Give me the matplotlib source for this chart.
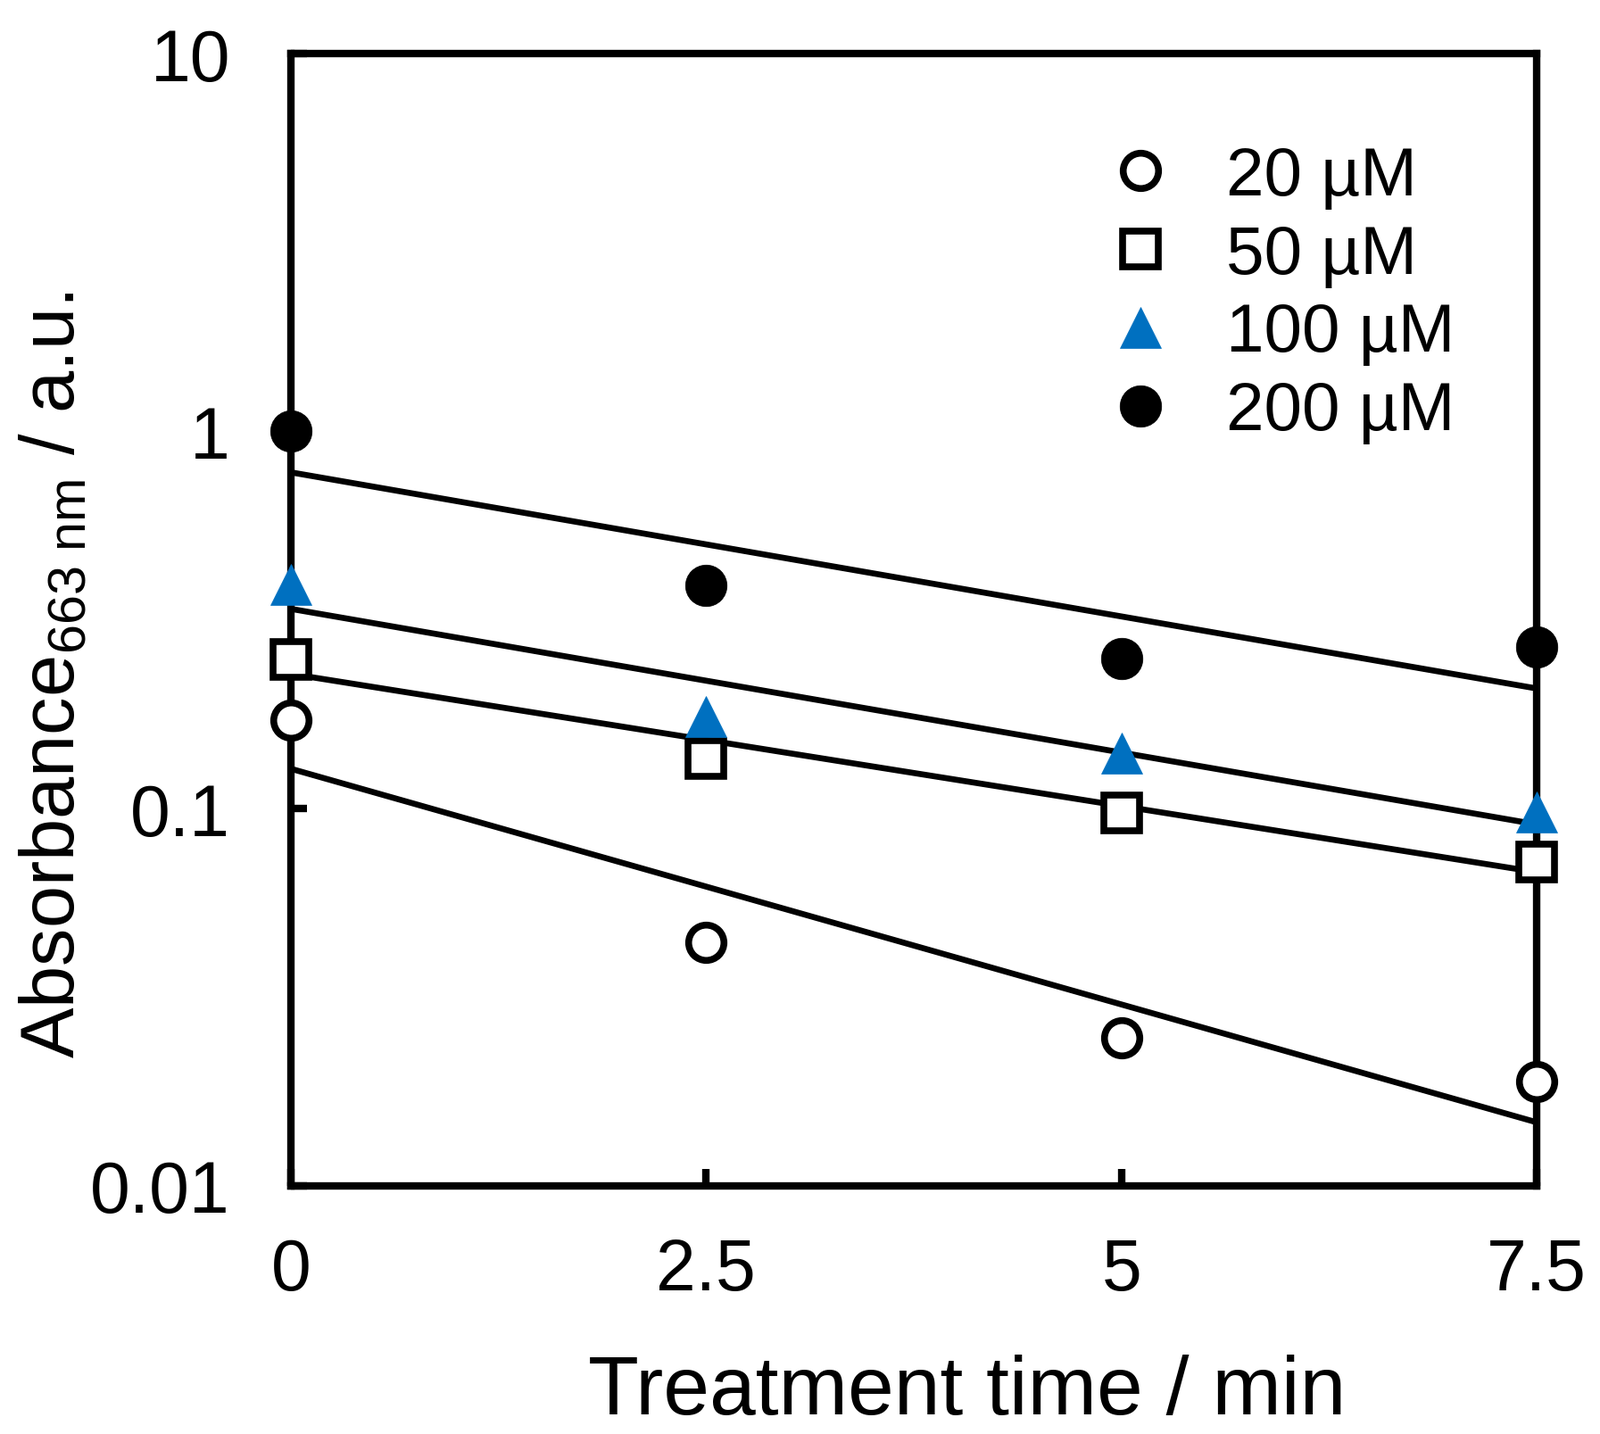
import numpy as np
import matplotlib
matplotlib.use('Agg')
import matplotlib.pyplot as plt
from matplotlib.ticker import FixedLocator, NullLocator

plt.rcParams['font.family'] = ['Liberation Sans', 'DejaVu Sans']
plt.rcParams['mathtext.fontset'] = 'custom'
plt.rcParams['mathtext.rm'] = 'Liberation Sans'
plt.rcParams['mathtext.it'] = 'Liberation Sans'

# treatment time (min) and absorbance at 663 nm
time = [0, 2.5, 5, 7.5]
abs_20 = [0.171, 0.0442, 0.0247, 0.0189]
abs_50 = [0.248, 0.136, 0.0975, 0.0723]
abs_100 = [0.392, 0.175, 0.140, 0.098]
abs_200 = [1.0, 0.390, 0.250, 0.268]

labels = ['20 µM', '50 µM', '100 µM', '200 µM']
x_ticks = [0, 2.5, 5, 7.5]
x_tick_labels = ['0', '2.5', '5', '7.5']
y_ticks = [0.01, 0.1, 1, 10]
y_tick_labels = ['0.01', '0.1', '1', '10']

blue = '#0070C0'
styles = [
    dict(marker='o', ms=28.5, mfc='white', mec='black', mew=5.5),
    dict(marker='s', ms=28.5, mfc='white', mec='black', mew=5.5),
    dict(marker='^', ms=33, mfc=blue, mec=blue, mew=0.5),
    dict(marker='o', ms=33.5, mfc='black', mec='black', mew=0.5),
]

fig = plt.figure(figsize=(17.93, 16.08), dpi=100)
ax = fig.add_axes([0.1818, 0.1729, 0.9604 - 0.1818, 0.962 - 0.1729])

t = np.array(time)
t_fit = np.linspace(0, 7.5, 100)
handles = []
for series, lab, st in zip([abs_20, abs_50, abs_100, abs_200], labels, styles):
    # exponential trendline (linear fit in log space)
    slope, icpt = np.polyfit(t, np.log(series), 1)
    ax.plot(t_fit, np.exp(icpt + slope * t_fit), color='black', lw=4.8, zorder=3,
            solid_capstyle='butt')
    h, = ax.plot(time, series, ls='none', label=lab, clip_on=False, zorder=5, **st)
    handles.append(h)

ax.set_yscale('log')
ax.set_xlim(0, 7.5)
ax.set_ylim(0.01, 10)
ax.yaxis.set_major_locator(FixedLocator(y_ticks))
ax.yaxis.set_minor_locator(NullLocator())
ax.set_yticklabels(y_tick_labels)
ax.set_xticks(x_ticks)
ax.set_xticklabels(x_tick_labels)

for s in ax.spines.values():
    s.set_linewidth(6)
ax.tick_params(axis='y', direction='in', length=13, width=6, labelsize=58, pad=49,
               left=True, right=False)
ax.tick_params(axis='x', direction='in', length=14, width=6, labelsize=58, pad=41,
               bottom=True, top=False)

ax.set_xlabel('Treatment time / min', fontsize=67)
ax.xaxis.set_label_coords(0.543, -0.201)
ax.xaxis.label.set_va('baseline')

ax.set_ylabel(r'Absorbance$_{\mathrm{663\ nm}}$ / a.u.', fontsize=61)
ax.yaxis.set_label_coords(-0.19, 0.452)
ax.yaxis.label.set_va('center')

ax.legend(handles=handles, loc='upper left', bbox_to_anchor=(0.6547, 0.919),
          frameon=False, fontsize=55, numpoints=1, handlelength=1.0,
          handletextpad=0.76, labelspacing=0.22, borderpad=0, borderaxespad=0)

fig.savefig('out.png', dpi=100)
